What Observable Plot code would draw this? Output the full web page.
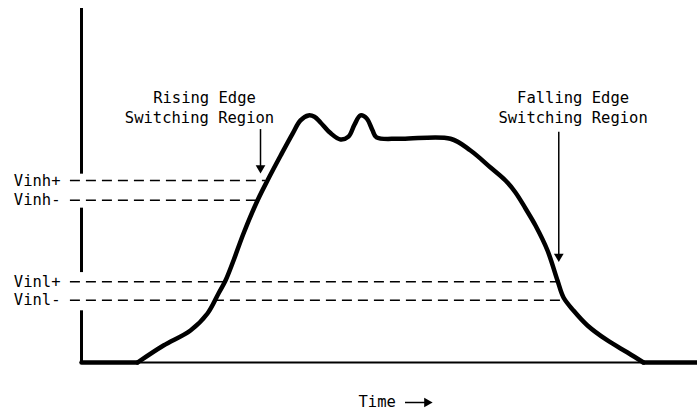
<!DOCTYPE html>
<html>
<head>
<meta charset="utf-8">
<script src="https://cdn.jsdelivr.net/npm/d3@7"></script>
<script src="https://cdn.jsdelivr.net/npm/@observablehq/plot@0.6"></script>
<style>
  html, body { margin: 0; padding: 0; background: #fff; }
</style>
</head>
<body>
<div id="chart"></div>
<script>
// Waveform: time (arbitrary units 0-100) and voltage (0-5)
const time = [0, 9.09, 13.31, 17.69, 20.45, 22.24, 23.38, 24.68, 26.3, 28.57, 30.19, 32.31, 34.25, 35.55, 36.85, 37.82, 38.8, 40.42, 42.05, 43.34, 44.32, 45.29, 46.27, 47.24, 47.89, 51.79, 59.9, 63.15, 66.4, 68.83, 70.45, 72.08, 73.7, 75.65, 77.27, 78.25, 79.87, 82.14, 85.39, 88.64, 91.23, 100];
const voltage = [0, 0, 0.24, 0.452, 0.692, 0.975, 1.158, 1.441, 1.822, 2.288, 2.571, 2.92, 3.23, 3.42, 3.49, 3.47, 3.39, 3.24, 3.15, 3.19, 3.36, 3.49, 3.45, 3.28, 3.18, 3.16, 3.16, 2.994, 2.754, 2.571, 2.401, 2.175, 1.935, 1.582, 1.158, 0.918, 0.734, 0.523, 0.311, 0.141, 0, 0];

// Threshold levels
const thresholdNames = ["Vinh+", "Vinh-", "Vinl+", "Vinl-"];
const thresholdValues = [2.57, 2.29, 1.14, 0.88];
const thresholdStart = [-1.8, -1.8, -1.8, -1.8];
const thresholdEnd = [29.9, 28.6, 77.3, 77.8];

// Vertical axis segments (broken around labels)
const axisSegStart = [5.0, 2.18, 0.73];
const axisSegEnd = [2.66, 1.27, 0];

// Annotations
const annoLines = ["Rising Edge", "Switching Region", "Falling Edge", "Switching Region"];
const annoX = [19.97, 19.16, 79.8, 79.8];
const annoY = [3.73, 3.46, 3.73, 3.46];
const arrowX = [29.06, 77.48];
const arrowTop = [3.29, 3.253];
const arrowHead = [2.747, 1.497];

// Time label
const timeLabel = "Time";
const timeLabelX = 44.97;
const timeLabelY = -0.565;
const timeArrowStart = 52.6;
const timeArrowHead = 56.09;

// Split the wave into a flat lead-in, the pulse, and a flat tail (corners at the joins)
const n = time.length;
const pieces = [["lead", 0, 1], ["pulse", 1, n - 2], ["tail", n - 2, n - 1]];
const wave = pieces.flatMap(([seg, a, b]) =>
  d3.range(a, b + 1).map((i) => ({seg, t: time[i], v: voltage[i]})));
const thresholds = thresholdNames.map((nm, i) => ({name: nm, v: thresholdValues[i], x1: thresholdStart[i], x2: thresholdEnd[i]}));
const axisSegs = axisSegStart.map((s, i) => ({y1: s, y2: axisSegEnd[i]}));
const annos = annoLines.map((s, i) => ({text: s, x: annoX[i], y: annoY[i]}));
const arrows = arrowX.map((x, i) => ({x, y1: arrowTop[i], y2: arrowHead[i]}));

const font = "'DejaVu Sans Mono', monospace";
const fs = 15.5;

const chart = Plot.plot({
  width: 697,
  height: 413,
  marginLeft: 81,
  marginRight: 0,
  marginTop: 8,
  marginBottom: 51,
  style: {fontFamily: font, fontSize: fs + "px", color: "#000", background: "#fff"},
  x: {domain: [0, 100], axis: null},
  y: {domain: [0, 5], axis: null},
  marks: [
    Plot.axisY({
      ticks: thresholdValues,
      tickFormat: (d) => thresholdNames[thresholdValues.indexOf(d)],
      tickSize: 0,
      tickPadding: 21,
      label: null,
      fontSize: fs,
      fill: "#000"
    }),
    Plot.ruleY(thresholds, {y: "v", x1: "x1", x2: "x2", stroke: "#000", strokeWidth: 1.5, strokeDasharray: "10,6"}),
    Plot.ruleX(axisSegs, {x: 0, y1: "y1", y2: "y2", stroke: "#000", strokeWidth: 3}),
    Plot.ruleY([0], {x1: 0, x2: 100, stroke: "#000", strokeWidth: 2}),
    Plot.line(wave, {x: "t", y: "v", z: "seg", stroke: "#000", strokeWidth: 4.5, curve: "catmull-rom", strokeLinejoin: "round", strokeLinecap: "round"}),
    Plot.ruleX(arrows, {x: "x", y1: "y1", y2: "y2", stroke: "#000", strokeWidth: 1.5}),
    Plot.dot(arrows, {x: "x", y: "y2", symbol: "triangle", rotate: 180, r: 3.6, fill: "#000", stroke: "none"}),
    Plot.text(annos, {x: "x", y: "y", text: "text", fill: "#000", fontSize: fs}),
    Plot.text([timeLabel], {x: timeLabelX, y: timeLabelY, text: (d) => d, textAnchor: "start", fill: "#000", fontSize: fs}),
    Plot.ruleY([timeLabelY], {x1: timeArrowStart, x2: timeArrowHead, stroke: "#000", strokeWidth: 1.5}),
    Plot.dot([timeLabelY], {x: timeArrowHead, y: (d) => d, symbol: "triangle", rotate: 90, r: 3.6, fill: "#000", stroke: "none"})
  ]
});
document.getElementById("chart").appendChild(chart);
</script>
</body>
</html>
